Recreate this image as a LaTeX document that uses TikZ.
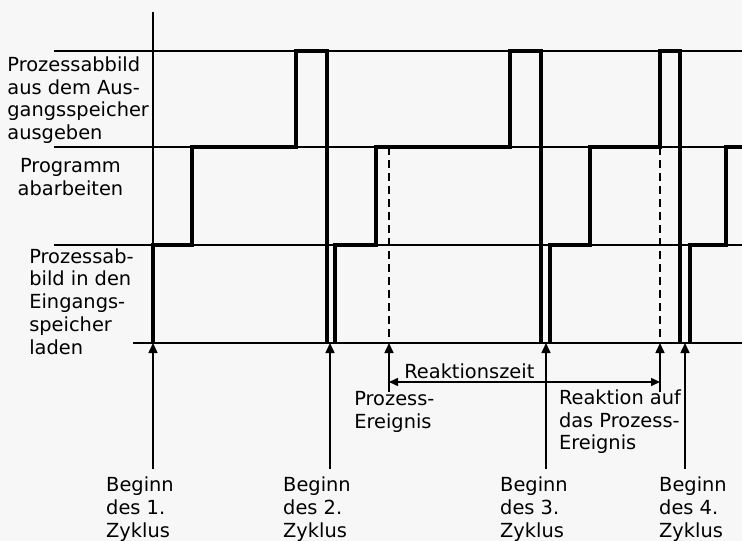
\documentclass[tikz,border=0pt]{standalone}
\usepackage{fontspec}
\setmainfont{DejaVu Sans}
\usetikzlibrary{arrows.meta}
\definecolor{paper}{RGB}{247,247,247}

\begin{document}
\begin{tikzpicture}[x=1pt,y=-1pt]
\tikzset{gridline/.style={draw=black,line width=1.3pt}}
\tikzset{signal/.style={draw=black,line width=3.8pt}}
\tikzset{eventline/.style={draw=black,line width=1.3pt,dash pattern=on 8pt off 5pt}}
\tikzset{pointer/.style={draw=black,line width=1.5pt,-{Triangle[length=10pt,width=9pt]}}}
\tikzset{span/.style={draw=black,line width=1.5pt,{Triangle[length=9pt,width=8pt]}-{Triangle[length=9pt,width=8pt]}}}
\tikzset{marktext/.style={inner sep=0pt,anchor=north west,align=left,font=\fontsize{19.4}{22.8}\selectfont}}

\path[fill=paper,use as bounding box] (0,0) rectangle (742,541);

\path[gridline] (153,12) -- (153,343);
\foreach \y in {51,147,245} {
  \path[gridline] (54,\y) -- (742,\y);
}
\path[gridline] (133,343) -- (742,343);

\path[signal] (153,343) |- (192,245) |- (296,147) |- (327,51) -- (327,343);
\path[signal] (335,343) |- (376,245) |- (510,147) |- (541,51) -- (541,343);
\path[signal] (550,343) |- (590,245) |- (660,147) |- (680,51) -- (680,343);
\path[signal] (690,343) |- (726,245) |- (742,147);

\coordinate (event) at (389,343);
\coordinate (reaction) at (660,343);
\path[eventline] (389,147) -- (event);
\path[eventline] (660,147) -- (reaction);

\foreach \n/\x/\tx in {1/153/106,2/330/283,3/546/500,4/685/659} {
  \coordinate (cyc\n) at (\x,343);
  \coordinate (tail\n) at (\x,469);
  \path[pointer] (tail\n) -- (cyc\n);
  \node[marktext] (beginn\n) at (\tx,477) {Beginn\\des \n.\\Zyklus};
}

\coordinate (eventtail) at (389,392);
\coordinate (reactiontail) at (660,392);
\path[pointer] (eventtail) -- (event);
\path[pointer] (reactiontail) -- (reaction);
\coordinate (spanleft) at (389,382);
\coordinate (spanright) at (660,382);
\path[span] (spanleft) -- (spanright);

\node[marktext] (ausgabe) at (7.2,56.4) {Prozessabbild\\aus dem Aus-\\gangsspeicher\\ausgeben};
\node[marktext,anchor=north,align=center] (programm) at (70.5,158.2) {Programm\\abarbeiten};
\node[marktext] (eingabe) at (29.1,248.1) {Prozessab-\\bild in den\\Eingangs-\\speicher\\laden};
\node[marktext] (ereignis) at (354.1,391.4) {Prozess-\\Ereignis};
\node[marktext] (rzeit) at (404.1,363.6) {Reaktionszeit};
\node[marktext] (reaktion) at (558.8,389.3) {Reaktion auf\\das Prozess-\\Ereignis};
\end{tikzpicture}
\end{document}
